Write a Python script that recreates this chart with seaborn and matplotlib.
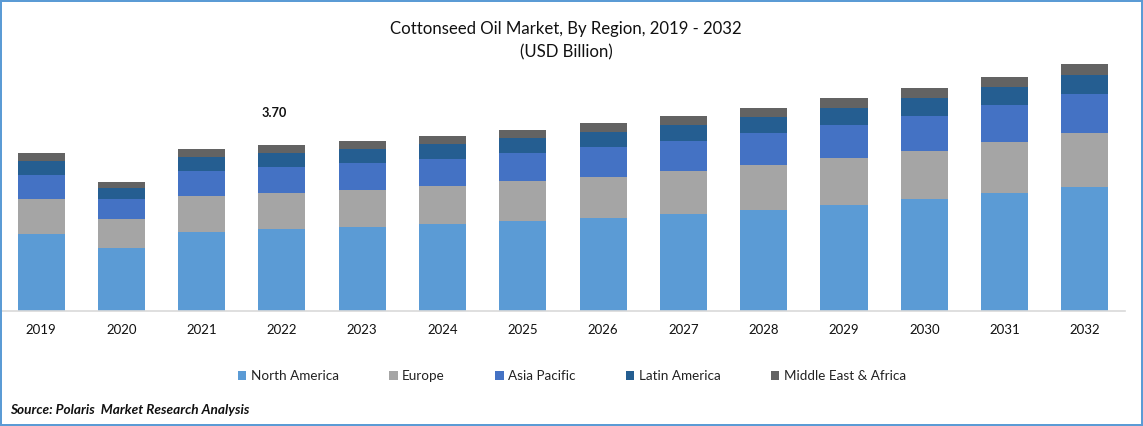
import numpy as np
import pandas as pd
import matplotlib
matplotlib.use("Agg")
import matplotlib.pyplot as plt
from matplotlib.patches import Rectangle
import seaborn as sns

years = [2019, 2020, 2021, 2022, 2023, 2024, 2025, 2026, 2027, 2028, 2029, 2030, 2031, 2032]
north_america = [1.72, 1.40, 1.76, 1.83, 1.87, 1.94, 2.01, 2.07, 2.16, 2.25, 2.36, 2.50, 2.63, 2.76]
europe = [0.78, 0.65, 0.80, 0.80, 0.82, 0.85, 0.89, 0.91, 0.96, 1.00, 1.05, 1.07, 1.14, 1.20]
asia_pacific = [0.53, 0.45, 0.56, 0.58, 0.60, 0.60, 0.62, 0.67, 0.67, 0.71, 0.74, 0.78, 0.82, 0.87]
latin_america = [0.31, 0.25, 0.31, 0.31, 0.31, 0.33, 0.33, 0.33, 0.36, 0.36, 0.38, 0.40, 0.40, 0.42]
mea = [0.18, 0.13, 0.18, 0.18, 0.18, 0.18, 0.18, 0.20, 0.20, 0.20, 0.22, 0.22, 0.22, 0.25]
series_names = ["North America", "Europe", "Asia Pacific", "Latin America", "Middle East & Africa"]
colors = ["#5b9bd5", "#a5a5a5", "#4472c4", "#255e91", "#636363"]
title_lines = ["Cottonseed Oil Market, By Region, 2019 - 2032", "(USD Billion)"]
source_text = "Source: Polaris  Market Research Analysis"
annotation = "3.70"

sns.set_theme(style="white")
plt.rcParams["font.family"] = ["Lato", "DejaVu Sans"]

W, H = 1143, 426
fig = plt.figure(figsize=(W / 100, H / 100), dpi=100, facecolor="white")
ax = fig.add_axes([1.5 / W, 1 - 311 / H, (1125 - 1.5) / W, (311 - 40) / H])

labels = [str(y) for y in years]
bottom = np.zeros(len(years))
for name, vals, col in zip(series_names, [north_america, europe, asia_pacific, latin_america, mea], colors):
    df = pd.DataFrame({"year": labels, "value": vals})
    sns.barplot(data=df, x="year", y="value", order=labels, color=col, saturation=1,
                width=0.586, bottom=bottom, label=name, errorbar=None, ax=ax, linewidth=0)
    bottom = bottom + np.array(vals)

ax.set_xlim(-0.4925, 13.5)
ax.set_ylim(0, 271 * 3.70 / 166)
ax.set_xlabel("")
ax.set_ylabel("")
ax.set_yticks([])
for s in ["top", "left", "right"]:
    ax.spines[s].set_visible(False)
ax.spines["bottom"].set_color("#d9d9d9")
ax.spines["bottom"].set_linewidth(1.2)
ax.tick_params(axis="x", length=0, pad=9.5, labelsize=9.5, labelcolor="#111111")

ax.text(2.91, 3.70 + 32 * 3.70 / 166, annotation, ha="center", va="center",
        fontsize=9.2, fontweight="bold", color="#111111")

handles, leg_labels = ax.get_legend_handles_labels()
ax.get_legend().remove()
fig.legend(handles, leg_labels, ncol=5, frameon=False, loc="center",
           bbox_to_anchor=(572 / W, 1 - 376 / H), fontsize=9.75, labelcolor="#222222",
           handlelength=0.6, handleheight=0.6, handletextpad=0.32, columnspacing=3.75,
           borderpad=0, borderaxespad=0)

fig.text(566 / W, 1 - 29 / H, title_lines[0], ha="center", va="center", fontsize=12.1, color="#111111")
fig.text(566 / W, 1 - 52 / H, title_lines[1], ha="center", va="center", fontsize=12.1, color="#111111")
fig.text(10 / W, 1 - 410 / H, source_text, ha="left", va="center", fontsize=9.85,
         fontweight="bold", fontstyle="italic", color="#111111")

for x, y, w, h in [(0, 0, W, 2), (0, H - 2, W, 2), (0, 0, 2, H), (W - 2, 0, 2, H)]:
    fig.add_artist(Rectangle((x / W, 1 - (y + h) / H), w / W, h / H, transform=fig.transFigure,
                             facecolor="#5b9bd5", edgecolor="none"))

fig.savefig("out.png", dpi=100)
